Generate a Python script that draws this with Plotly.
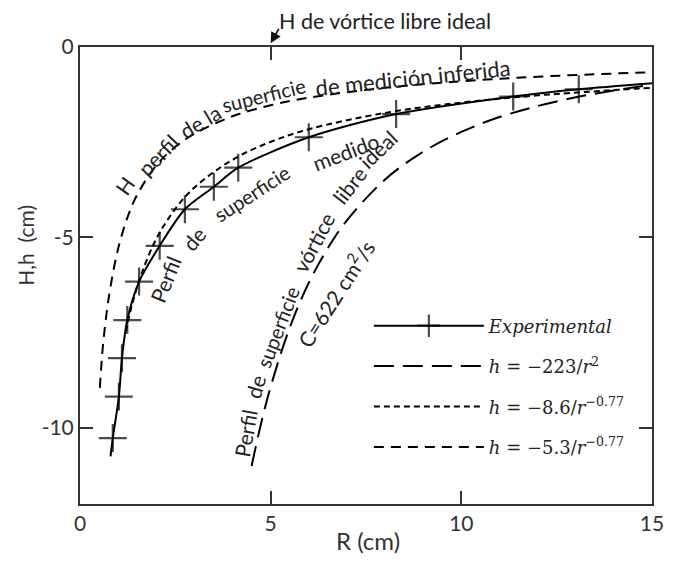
import plotly.graph_objects as go

# ---------------- data ----------------
# Experimental measured points (+ markers) and the smooth line through them
exp_r = [0.80, 0.86, 1.02, 1.10, 1.24, 1.55, 2.09, 2.75, 3.51, 4.15, 6.00, 8.29, 11.36, 13.08, 15.0]
exp_h = [-10.75, -10.27, -9.18, -8.17, -7.17, -6.16, -5.22, -4.26, -3.67, -3.17, -2.37, -1.76, -1.30, -1.11, -0.95]
exp_is_point = [0, 1, 1, 1, 1, 1, 1, 1, 1, 1, 1, 1, 1, 1, 0]

# ideal free vortex h = -223/r^2 (long dashes)
ideal_r = [4.5, 4.75, 5.0, 5.5, 6.0, 6.5, 7.0, 8.0, 9.0, 10.0, 11.0, 12.0, 13.0, 14.0, 15.0]
ideal_h = [-11.0, -9.88, -8.92, -7.37, -6.19, -5.28, -4.55, -3.48, -2.75, -2.23, -1.84, -1.55, -1.32, -1.14, -0.99]

# h = -8.6/r^-0.77 (fine dashes)
fit86_r = [1.2, 1.3, 1.4, 1.6, 2.0, 2.5, 3.0, 4.0, 5.0, 6.0, 8.0, 10.0, 12.0, 15.0]
fit86_h = [-7.48, -7.03, -6.64, -5.99, -5.04, -4.25, -3.69, -2.96, -2.49, -2.16, -1.73, -1.46, -1.27, -1.07]

# h = -5.3/r^-0.77 (medium dashes, inferred H profile)
fit53_r = [0.52, 0.6, 0.7, 0.8, 1.0, 1.25, 1.5, 2.0, 2.5, 3.0, 4.0, 5.0, 6.0, 8.0, 10.0, 12.0, 15.0]
fit53_h = [-8.95, -7.86, -6.97, -6.29, -5.30, -4.46, -3.88, -3.11, -2.62, -2.28, -1.82, -1.53, -1.33, -1.07, -0.90, -0.78, -0.66]

x_ticks = [0, 5, 10, 15]
x_tick_labels = ["0", "5", "10", "15"]
y_ticks = [0, -5, -10]
y_tick_labels = ["0", "-5", "-10"]

legend_names = [
    "<i>Experimental</i>",
    "<i>h</i> = −223/<i>r</i><sup>2</sup>",
    "<i>h</i> = −8.6/<i>r</i><sup>−0.77</sup>",
    "<i>h</i> = −5.3/<i>r</i><sup>−0.77</sup>",
]

# ---------------- figure ----------------
fig = go.Figure()
fig.add_trace(go.Scatter(
    x=exp_r, y=exp_h, mode="lines+markers", name=legend_names[0], legendgroup="a",
    line=dict(color="black", width=2, shape="spline", smoothing=0.8),
    marker=dict(symbol="cross-thin", size=[20 * p for p in exp_is_point],
                line=dict(color="black", width=2.2), color="black"),
))
fig.add_trace(go.Scatter(
    x=ideal_r, y=ideal_h, mode="lines", name=legend_names[1], legendgroup="b",
    line=dict(color="black", width=2, dash="20px,9px", shape="spline"),
))
fig.add_trace(go.Scatter(
    x=fit86_r, y=fit86_h, mode="lines", name=legend_names[2], legendgroup="c",
    line=dict(color="black", width=2, dash="6px,4px", shape="spline"),
))
fig.add_trace(go.Scatter(
    x=fit53_r, y=fit53_h, mode="lines", name=legend_names[3], legendgroup="d",
    line=dict(color="black", width=2, dash="10px,7px", shape="spline"),
))

FAM = "Lato, Open Sans, sans-serif"
TXT = dict(family=FAM, size=22, color="#222")
# plot-area pixel geometry used to place free text (reference picture pixels)
PX0, PX1, PY0, PY1 = 80.0, 659.0, 47.0, 504.0

def lab(text, px, py, angle, size=21):
    # px/py: centre of the word in reference-picture pixels
    f = dict(TXT)
    f["size"] = size
    fig.add_annotation(x=(px - PX0) / (PX1 - PX0), y=(PY1 - py) / (PY1 - PY0),
                       xref="paper", yref="paper", text=text, showarrow=False,
                       textangle=angle, font=f, xanchor="center", yanchor="middle")

# H perfil de la superficie de medición inferida
lab("H", 125, 185, -55)
lab("perfil", 158, 155, -46)
lab("de la", 201, 121, -31)
lab("superficie", 266, 95, -14, 20)
lab("de medición inferida", 417, 78, -6, 22)
# Perfil de superficie medido
lab("Perfil", 166, 279, -68)
lab("de", 195, 238, -50)
lab("superficie", 254, 193, -33, 20)
lab("medido", 349, 151, -21)
# Perfil de superficie vórtice libre ideal
lab("Perfil", 247, 433, -80)
lab("de", 257, 386, -74)
lab("superficie", 280, 327, -69, 20)
lab("vórtice", 316, 242, -62)
lab("libre", 352, 185, -52)
lab("ideal", 381, 149, -44)
lab("C=622 cm<sup>2</sup>/s", 338, 293, -57)

# top note with arrow
fig.add_annotation(x=0.345, y=1.0569, xref="paper", yref="paper", text="H de vórtice libre ideal",
                   showarrow=False, xanchor="left", yanchor="middle",
                   font=dict(family=FAM, size=21.5, color="#222"))
fig.add_annotation(x=5, y=1.008, xref="x", yref="paper", text="", showarrow=True,
                   ax=9, ay=-16, arrowhead=2, arrowsize=1.2, arrowwidth=1.8, arrowcolor="#111")

# axis titles
fig.add_annotation(x=0.504, y=(PY1 - 557) / (PY1 - PY0), xref="paper", yref="paper", text="R (cm)",
                   showarrow=False, font=dict(family=FAM, size=24, color="#333"))
fig.add_annotation(x=-0.12, y=0.567, xref="paper", yref="paper", text="H,h  (cm)", showarrow=False,
                   textangle=-90, font=dict(family=FAM, size=21, color="#333"))

axis_common = dict(showgrid=False, zeroline=False, showline=True, linewidth=2, linecolor="#333",
                   ticks="inside", ticklen=13, tickwidth=2, tickcolor="#333", mirror="ticks",
                   tickfont=dict(family=FAM, size=21, color="#333"))
fig.update_xaxes(range=[0, 15], tickvals=x_ticks, ticktext=x_tick_labels, **axis_common)
fig.update_yaxes(range=[-12, 0], tickvals=y_ticks, ticktext=y_tick_labels, **axis_common)

# the page body has an 8px default margin, so the figure is kept inside the window
fig.update_layout(
    width=668, height=562,
    margin=dict(l=72, r=17, t=39, b=66),
    paper_bgcolor="white", plot_bgcolor="white",
    showlegend=True,
    legend=dict(x=0.505, y=0.43, xanchor="left", yanchor="top", bgcolor="rgba(0,0,0,0)",
                traceorder="grouped", tracegroupgap=14, itemwidth=110,
                font=dict(family="DejaVu Serif, serif", size=18, color="#222")),
)

fig.write_html("out.html")
